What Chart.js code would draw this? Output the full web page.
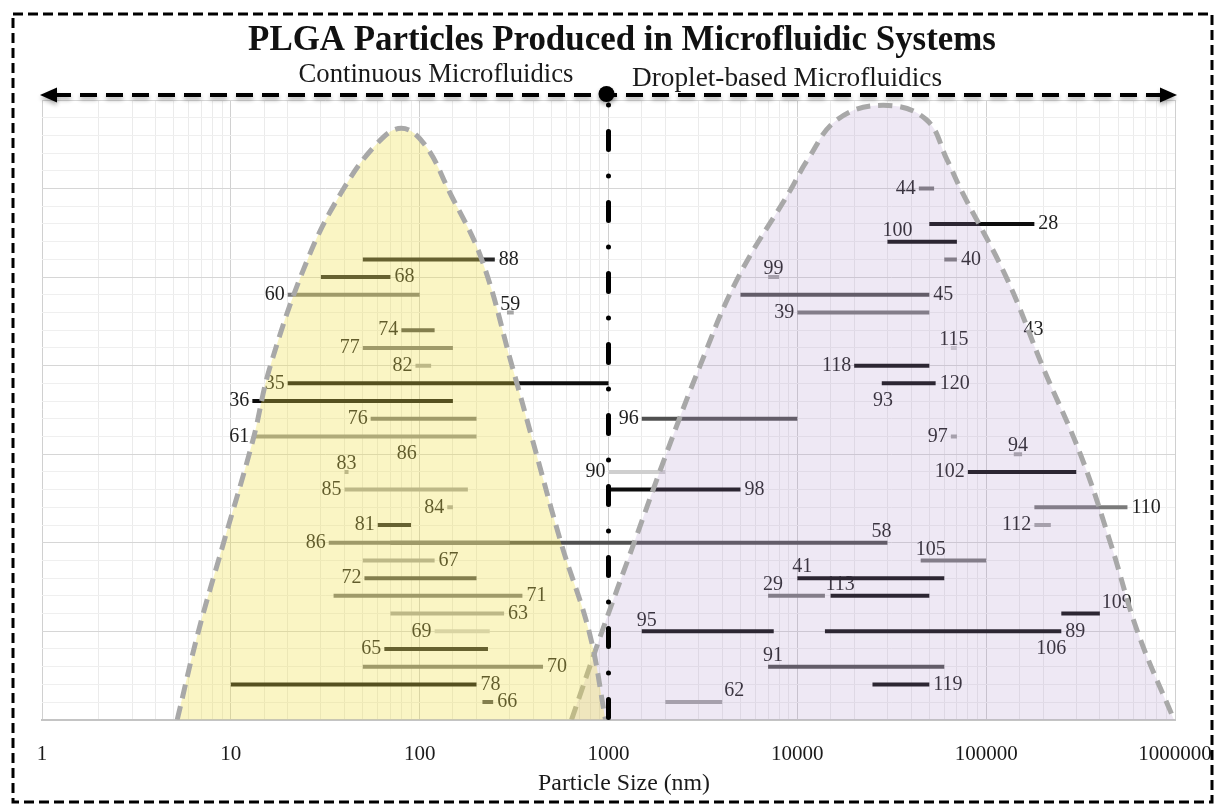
<!DOCTYPE html>
<html>
<head>
<meta charset="utf-8">
<script src="https://cdn.jsdelivr.net/npm/chart.js@4.4.1/dist/chart.umd.min.js"></script>
<style>
  html, body { margin: 0; background: #fff; }
  canvas { display: block; }
</style>
</head>
<body>
<canvas id="grafico" width="1223" height="808"></canvas>
<script>
// Referências (número do artigo) e intervalo de tamanho de cada uma (nm)
const refs   = ["88","68","60","59","74","77","82","35","36","76","61","86","83","85","84","81","86","58","67","72","71","63","69","65","70","78","66",
                "44","28","100","40","99","45","39","43","115","118","120","93","96","97","94","90","102","98","110","112","105","41","29","113","109","95","89","106","91","119","62"];
const rows   = [26,25,24,23,22,21,20,19,18,17,16,15,14,13,12,11,10,10,9,8,7,6,5,4,3,2,1,
                30,28,27,26,25,24,23,22,21,20,19,18,17,16,15,14,14,13,12,11,9,8,7,7,6,5,5,4,3,2,1];
const starts = [50,30,20,290,80,50,95,20,13,55,13,100,40,40,140,60,33,70,50,51,35,70,120,65,50,10,215,
                44000,50000,30000,60000,7000,5000,10000,130000,65000,20000,28000,26000,1500,65000,140000,1000,80000,1000,180000,180000,45000,10000,7000,15000,250000,1500,14000,200000,7000,25000,2000];
const ends   = [250,70,100,315,120,150,115,1000,150,200,200,120,42,180,150,90,300,30000,120,200,350,280,235,230,450,200,245,
                53000,180000,70000,70000,8000,50000,50000,150000,70000,50000,54000,31000,10000,70000,155000,2000,300000,5000,560000,220000,100000,60000,14000,50000,400000,7500,250000,245000,60000,50000,4000];

// Contornos das duas regiões
const contX = [5.2,6.7,9.1,13.1,16.1,25.5,38.6,59,80,106,144,213,310,396,564,793,964];
const contY = [0,4.9,9.9,15.8,19.9,26,29.8,32.5,33.4,32.5,29.8,26,19.9,15.8,9.9,4.9,0];
const gotaX = [637,918,1356,2004,3030,4815,9180,11300,16300,28500,48100,62200,73800,129000,200000,318000,458000,637000,988000];
const gotaY = [0,4.9,9.9,14.9,19.9,24.9,29.9,31.6,33.9,34.7,33.9,31.6,29.9,24.9,19.9,14.9,9.9,4.9,0];

// estilo de cada traço e posição do rótulo
const tons = ["k2","k2","m","l","md","m","l","k","k","m","ml","vv","l","l","l","k2","m","md","l","md","m","l","vl","k2","m","k","md",
              "m","k","k","m","l","md","m","vv","vl","k","k","vv","md","l","l","vl","k","k","m","l","m","k","m","k","k","k","k","vv","md","k","l"];
const lado = ["r","r","l","c","l","l","l","l","l","l","l","l","c","l","l","l","l","ae","r","l","r","r","l","l","r","r","r",
              "l","r","al","r","c","r","l","r","c","l","r","m","l","l","c","l","l","r","r","l","al","al","al","al","ar","al","r","m","al","r","ar"];
const cores = { k: "#0d0d0d", k2: "#262626", md: "#505050", m: "#7a7a7a", ml: "#939393", l: "#a6a6a6", vl: "#cfcfcf", vv: "rgba(255,255,255,0)" };

const serif = '"Liberation Serif", "DejaVu Serif", serif';
const isDecade = v => Math.abs(Math.log10(v) - Math.round(Math.log10(v))) < 1e-9;

const datasets = [
  {
    data: contX.map((x, i) => ({ x, y: contY[i] })),
    showLine: true, tension: 0.4, pointRadius: 0, order: 0,
    borderColor: "#a8a8a8", borderWidth: 5, borderDash: [14, 8],
    fill: "origin", backgroundColor: "rgba(238,225,70,0.32)",
  },
  {
    data: gotaX.map((x, i) => ({ x, y: gotaY[i] })),
    showLine: true, tension: 0.4, pointRadius: 0, order: 0,
    borderColor: "#a8a8a8", borderWidth: 5, borderDash: [14, 8],
    fill: "origin", backgroundColor: "rgba(170,140,200,0.2)",
  },
];
refs.forEach((r, i) => {
  datasets.push({
    data: [{ x: starts[i], y: rows[i] }, { x: ends[i], y: rows[i] }],
    showLine: true, pointRadius: 0, order: 1,
    borderColor: cores[tons[i]], borderWidth: 4,
  });
});

// rótulos das referências (desenhados antes das regiões coloridas)
const rotulos = {
  id: "rotulos",
  beforeDatasetsDraw(chart) {
    const { ctx, scales: { x, y } } = chart;
    ctx.save();
    ctx.font = "20px " + serif;
    ctx.fillStyle = "#1e1e1e";
    ctx.textBaseline = "middle";
    refs.forEach((r, i) => {
      const x0 = x.getPixelForValue(starts[i]);
      const x1 = x.getPixelForValue(ends[i]);
      const py = y.getPixelForValue(rows[i]);
      const w = ctx.measureText(r).width;
      let tx = x1 + 4, ty = py;
      switch (lado[i]) {
        case "l": tx = x0 - 3 - w; break;
        case "r": tx = x1 + 4; break;
        case "al": tx = x0 - 5; ty = py - 11; break;
        case "ar": tx = x1 + 2; ty = py - 11; break;
        case "ae": tx = x1 - w / 2 - 6; ty = py - 11; break;
        case "c": tx = (x0 + x1) / 2 - w / 2; ty = py - 8; break;
        case "m": tx = (x0 + x1) / 2 - w / 2; break;
      }
      ctx.fillText(r, tx, ty);
    });
    ctx.restore();
  },
};

function textoAjustado(ctx, txt, peso, largura, cx, base) {
  ctx.font = peso + " 30px " + serif;
  const tam = 30 * largura / ctx.measureText(txt).width;
  ctx.font = peso + " " + tam.toFixed(1) + "px " + serif;
  ctx.textAlign = "center";
  ctx.textBaseline = "alphabetic";
  ctx.fillText(txt, cx, base);
}

const extras = {
  id: "extras",
  afterDraw(chart) {
    const { ctx, scales: { x, y } } = chart;
    const xm = x.getPixelForValue(1000);
    const yTopo = 95;
    ctx.save();

    // linha vertical traço-ponto em 1000 nm
    ctx.strokeStyle = "#000";
    ctx.lineWidth = 5;
    ctx.lineCap = "round";
    ctx.setLineDash([18, 26.5, 0.01, 26.5]);
    ctx.lineDashOffset = 34.5;
    ctx.beginPath();
    ctx.moveTo(xm, yTopo);
    ctx.lineTo(xm, y.getPixelForValue(0));
    ctx.stroke();

    // seta dupla tracejada
    ctx.shadowColor = "rgba(0,0,0,0.3)";
    ctx.shadowBlur = 4;
    ctx.shadowOffsetY = 3;
    ctx.lineCap = "butt";
    ctx.lineWidth = 4;
    ctx.setLineDash([17, 9]);
    ctx.lineDashOffset = 0;
    ctx.beginPath();
    ctx.moveTo(54, yTopo);
    ctx.lineTo(1163, yTopo);
    ctx.stroke();
    ctx.setLineDash([]);
    ctx.fillStyle = "#000";
    ctx.beginPath();
    ctx.moveTo(40, yTopo); ctx.lineTo(57, yTopo - 7.5); ctx.lineTo(57, yTopo + 7.5); ctx.closePath();
    ctx.fill();
    ctx.beginPath();
    ctx.moveTo(1177, yTopo); ctx.lineTo(1160, yTopo - 7.5); ctx.lineTo(1160, yTopo + 7.5); ctx.closePath();
    ctx.fill();
    ctx.beginPath();
    ctx.arc(xm - 2, yTopo - 1, 8, 0, Math.PI * 2);
    ctx.fill();
    ctx.shadowColor = "transparent";

    // textos
    ctx.fillStyle = "#111";
    textoAjustado(ctx, "PLGA Particles Produced in Microfluidic Systems", "bold", 748, 622, 50);
    ctx.fillStyle = "#1a1a1a";
    textoAjustado(ctx, "Continuous Microfluidics", "normal", 275, 436, 82);
    textoAjustado(ctx, "Droplet-based Microfluidics", "normal", 310, 787, 86);
    textoAjustado(ctx, "Particle Size (nm)", "normal", 172, 624, 790);

    // moldura tracejada
    ctx.strokeStyle = "#000";
    ctx.lineWidth = 3;
    ctx.setLineDash([10, 5]);
    ctx.strokeRect(13, 14, 1199, 788);
    ctx.restore();
  },
};

new Chart(document.getElementById("grafico"), {
  type: "scatter",
  data: { datasets },
  options: {
    responsive: false,
    animation: false,
    layout: { padding: { left: 42, right: 48, top: 100, bottom: 19 } },
    plugins: { legend: { display: false }, tooltip: { enabled: false } },
    scales: {
      x: {
        type: "logarithmic",
        min: 1,
        max: 1000000,
        afterFit: (s) => { s.paddingLeft = 0; s.paddingRight = 0; },
        grid: {
          color: (c) => (c.tick && isDecade(c.tick.value) ? "#d0d0d0" : "#ebebeb"),
          drawTicks: false,
        },
        border: { display: true, color: "#c4c4c4", width: 2 },
        ticks: {
          autoSkip: false,
          maxRotation: 0,
          padding: 22,
          color: "#1a1a1a",
          font: { family: serif, size: 21 },
          callback: (v) => (isDecade(v) ? String(v) : ""),
        },
      },
      y: {
        min: 0,
        max: 35,
        ticks: { display: false, stepSize: 1 },
        grid: {
          color: (c) => (c.tick && c.tick.value % 5 === 0 ? "#d6d6d6" : "#efefef"),
          drawTicks: false,
        },
        border: { display: false },
      },
    },
  },
  plugins: [rotulos, extras],
});
</script>
</body>
</html>
